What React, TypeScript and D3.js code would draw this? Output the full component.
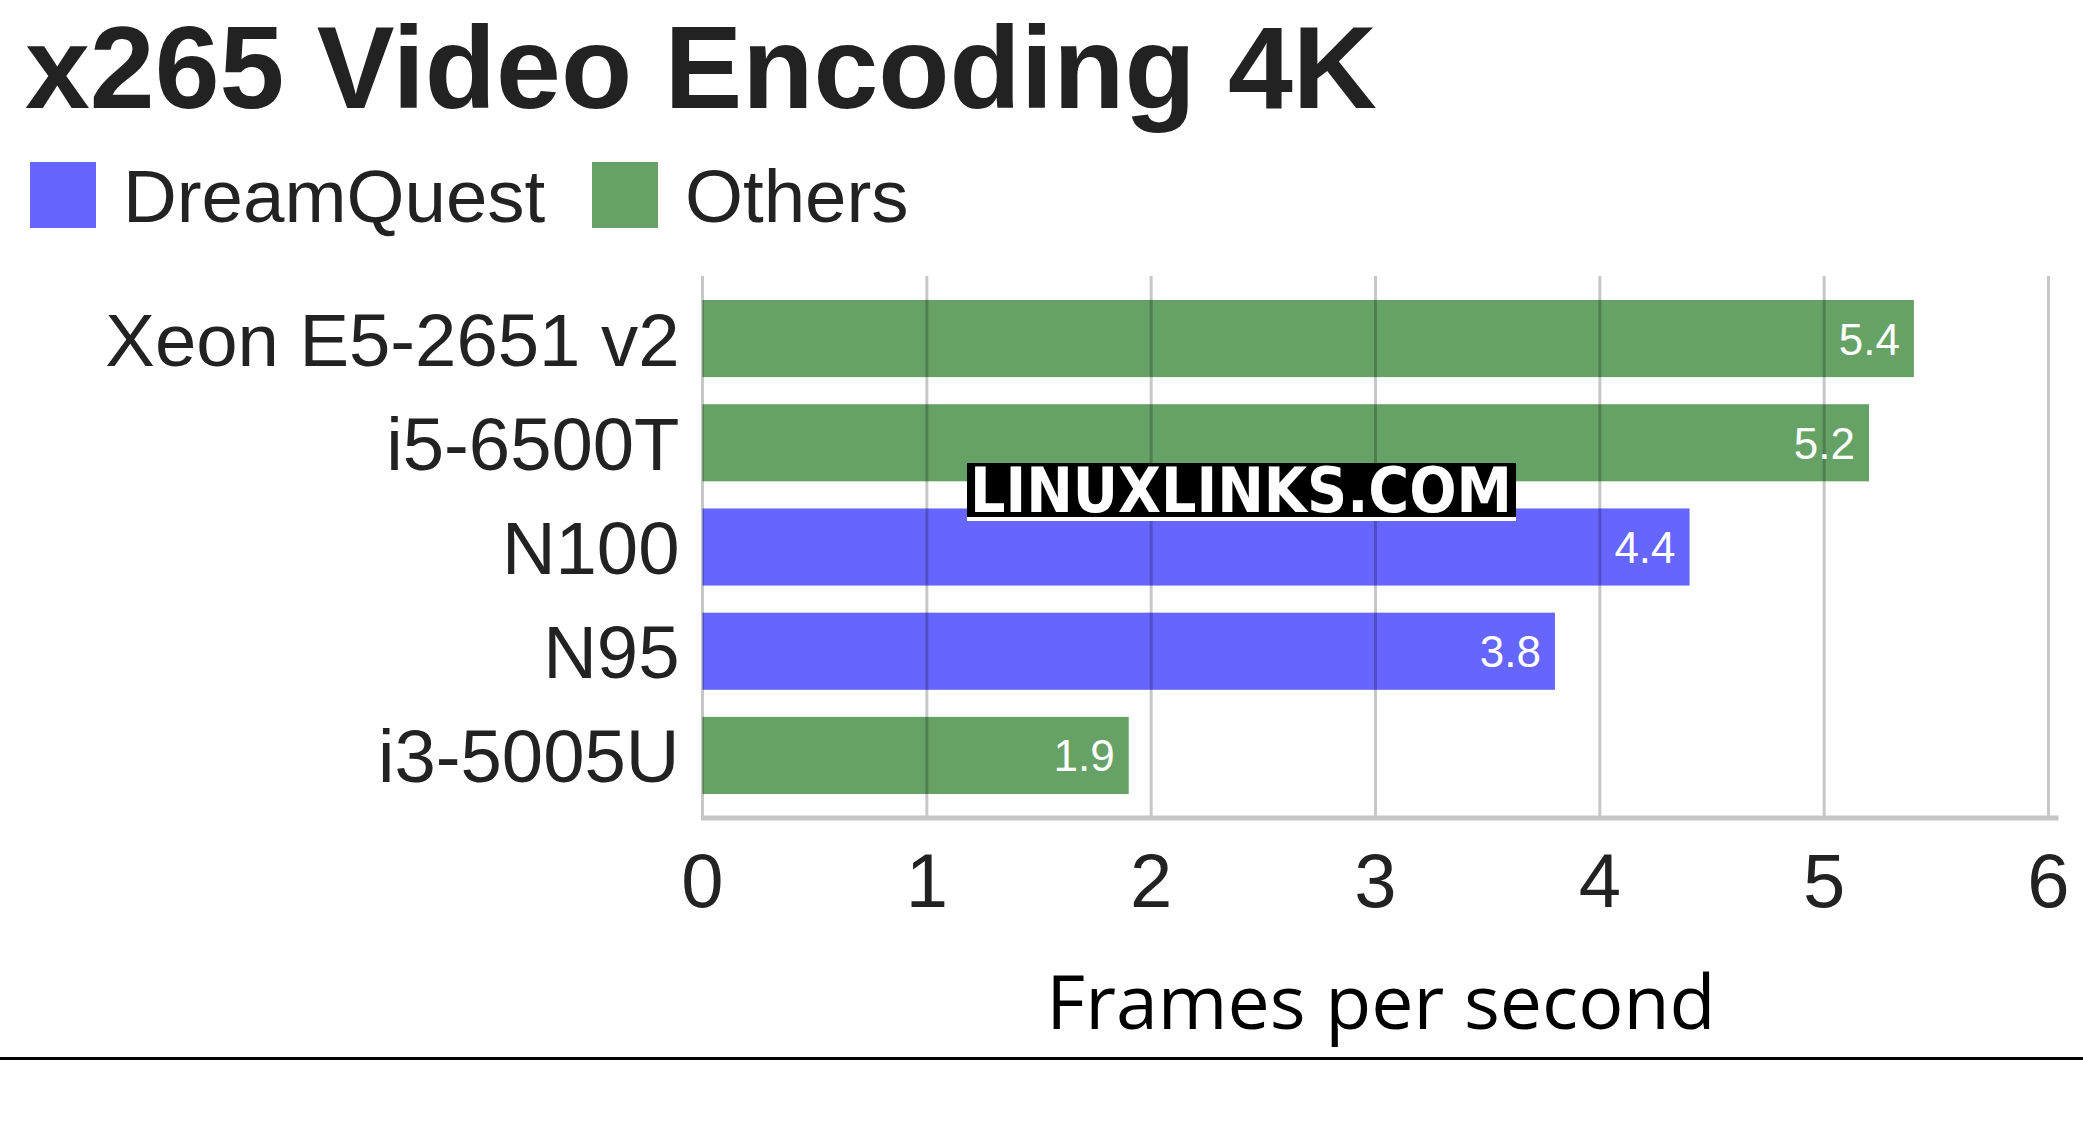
import * as d3 from 'd3';

// Data
const categories = ['Xeon E5-2651 v2', 'i5-6500T', 'N100', 'N95', 'i3-5005U'];
const fps = [5.4, 5.2, 4.4, 3.8, 1.9];
const groups = ['Others', 'Others', 'DreamQuest', 'DreamQuest', 'Others'];
const seriesNames = ['DreamQuest', 'Others'];
const seriesColors = ['#6666ff', '#66a266'];
const xTicks = [0, 1, 2, 3, 4, 5, 6];

const W = 2083;
const H = 1145;
const plot = { left: 702.5, right: 2048.5, top: 276, bottom: 818 };
const sans = '"Liberation Sans", Arial, sans-serif';

export default function App() {
    const x = d3.scaleLinear().domain([0, 6]).range([plot.left, plot.right]);
    const y = d3.scaleBand<string>()
        .domain(categories)
        .range([plot.top, plot.bottom])
        .paddingInner(0.26)
        .paddingOuter(0.23);
    const color = d3.scaleOrdinal<string, string>().domain(seriesNames).range(seriesColors);

    const legendX = [30, 592];

    return (
        <svg width={W} height={H} style={{ position: 'absolute', left: 0, top: 0, display: 'block', background: '#fff' }}>
            {/* Title */}
            <text x={25} y={108} fontFamily={sans} fontWeight="bold" fontSize={116.6} fill="#222">
                x265 Video Encoding 4K
            </text>

            {/* Legend */}
            {seriesNames.map((s, i) => (
                <g key={s} transform={`translate(${legendX[i]},162)`}>
                    <rect width={66} height={66} fill={color(s)} />
                    <text x={93} y={60} fontFamily={sans} fontSize={74.5} fill="#222">{s}</text>
                </g>
            ))}

            {/* Bars */}
            {categories.map((c, i) => (
                <rect key={c} x={x(0)} y={y(c)} width={x(fps[i]) - x(0)} height={y.bandwidth()} fill={color(groups[i])} />
            ))}

            {/* Grid lines over bars */}
            {xTicks.map(t => (
                <line key={t} x1={x(t)} x2={x(t)} y1={plot.top} y2={plot.bottom} stroke="#000" strokeOpacity={0.22} strokeWidth={3} />
            ))}

            {/* Axis line */}
            <line x1={plot.left - 1.5} x2={plot.right + 10} y1={plot.bottom} y2={plot.bottom} stroke="#c6c6c6" strokeWidth={5} />

            {/* Value labels */}
            {categories.map((c, i) => (
                <text key={c} x={x(fps[i]) - 14} y={y(c)! + y.bandwidth() / 2 + 16} textAnchor="end"
                    fontFamily={sans} fontSize={44} fill="#fff">
                    {d3.format('.1f')(fps[i])}
                </text>
            ))}

            {/* Category labels */}
            {categories.map(c => (
                <text key={c} x={679.5} y={y(c)! + y.bandwidth() / 2 + 27} textAnchor="end"
                    fontFamily={sans} fontSize={74.3} fill="#222">
                    {c}
                </text>
            ))}

            {/* Tick labels */}
            {xTicks.map(t => (
                <text key={t} x={x(t)} y={907} textAnchor="middle" fontFamily={sans} fontSize={76} fill="#222">
                    {t}
                </text>
            ))}

            {/* Axis title */}
            <text x={1381} y={1029} textAnchor="middle" fontFamily='"Open Sans", "Noto Sans", sans-serif' fontSize={75.3} fill="#000">
                Frames per second
            </text>

            {/* Watermark */}
            <rect x={967} y={463} width={549} height={58} fill="#fff" />
            <rect x={967} y={463} width={549} height={54} fill="#000" />
            <text x={970} y={512} textLength={542} lengthAdjust="spacingAndGlyphs"
                fontFamily='"DejaVu Sans Condensed", "DejaVu Sans", sans-serif' fontWeight="bold" fontSize={62} fill="#fff">
                LINUXLINKS.COM
            </text>

            {/* Bottom rule */}
            <line x1={0} x2={W} y1={1058.5} y2={1058.5} stroke="#000" strokeWidth={3} />
        </svg>
    );
}
